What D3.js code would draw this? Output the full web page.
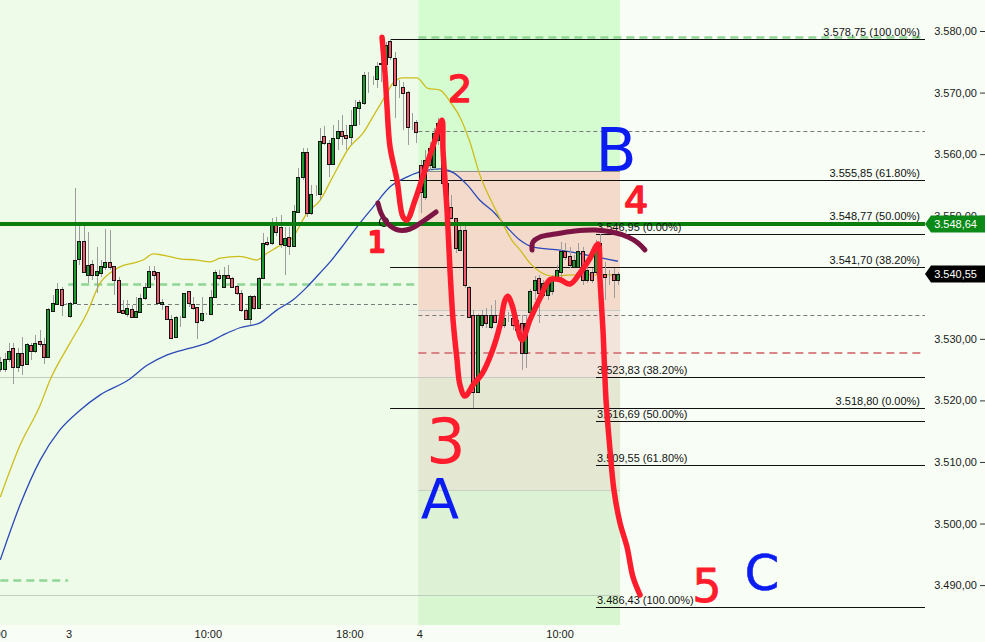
<!DOCTYPE html>
<html>
<head>
<meta charset="utf-8">
<script src="https://cdn.jsdelivr.net/npm/d3@7/dist/d3.min.js"></script>
<style>
html,body{margin:0;padding:0;background:#f8fef6;}
svg{display:block;font-family:"Liberation Sans",Arial,sans-serif;}
</style>
</head>
<body>
<svg id="chart" width="985" height="642"></svg>
<script>
// ================= DATA =================
const open = [3525.1,3525.1,3526.8,3528.5,3525.4,3527.7,3525.9,3529.0,3528.1,3529.6,
3529.2,3527.1,3534.6,3535.7,3538.1,3535.7,3533.7,3535.8,3542.9,3545.9,
3540.4,3542.1,3540.3,3540.7,3541.7,3542.5,3541.8,3539.6,3534.7,3534.1,
3534.8,3533.6,3534.4,3536.6,3538.4,3541.0,3540.8,3535.6,3535.3,3533.2,
3530.3,3533.6,3533.5,3537.8,3535.6,3535.1,3533.1,3534.0,3534.0,3536.8,
3540.4,3538.5,3540.3,3539.8,3538.6,3537.5,3534.7,3533.3,3537.0,3535.0,
3539.8,3545.7,3545.5,3548.5,3548.1,3545.2,3546.5,3545.1,3550.6,3556.3,
3560.4,3550.4,3553.5,3553.5,3562.9,3561.8,3558.4,3562.6,3563.8,3563.1,
3562.8,3564.8,3567.5,3568.3,3572.6,3572.2,3572.2,3574.6,3574.6,3578.3,
3575.6,3570.9,3570.9,3570.1,3564.6,3565.2,3558.2,3553.0,3558.2,3557.9,
3562.3,3565.1,3555.3,3551.4,3549.6,3544.5,3547.7,3538.5,3533.9,3521.4,
3532.2,3533.9,3531.9,3533.9,3533.5,3532.2,3533.4,3533.4,3533.1,3532.6,
3527.7,3534.4,3537.9,3539.8,3537.1,3537.1,3537.7,3540.1,3540.9,3544.2,
3543.4,3541.7,3541.6,3544.2,3539.6,3540.9,3540.9,3545.5,3540.6,3540.4,
3540.6,3539.6];
const high = [3527.0,3527.7,3529.3,3529.3,3528.5,3530.3,3529.3,3529.3,3530.6,3531.4,
3530.1,3535.0,3537.1,3539.1,3538.4,3535.8,3536.0,3554.5,3548.5,3548.5,
3547.3,3542.8,3544.9,3542.8,3547.8,3547.7,3541.8,3540.0,3536.3,3536.3,
3535.5,3536.8,3537.3,3539.1,3541.8,3541.8,3540.9,3536.5,3535.3,3533.9,
3533.7,3533.7,3537.4,3537.8,3536.8,3535.2,3536.8,3534.2,3538.0,3541.2,
3541.2,3541.7,3542.0,3540.0,3538.7,3537.9,3535.0,3537.1,3537.1,3540.1,
3547.2,3546.6,3549.6,3549.8,3550.1,3548.2,3548.2,3551.7,3557.7,3561.0,
3561.0,3555.0,3555.0,3564.2,3564.5,3562.3,3564.7,3565.5,3566.4,3564.7,
3567.2,3568.8,3568.8,3573.3,3573.3,3572.7,3575.0,3575.6,3578.2,3578.75,
3576.6,3572.0,3571.7,3570.3,3566.7,3565.5,3559.0,3560.7,3562.0,3564.2,
3565.9,3565.9,3555.8,3553.4,3549.6,3548.8,3548.5,3538.6,3534.7,3534.0,
3534.7,3535.0,3535.5,3536.3,3534.4,3533.9,3534.4,3533.7,3533.7,3533.9,
3533.9,3538.1,3540.2,3540.4,3539.6,3539.9,3540.4,3542.0,3545.7,3545.6,
3544.9,3543.6,3545.6,3544.9,3542.3,3541.5,3546.0,3546.95,3542.5,3541.2,
3541.5,3540.9];
const low = [3524.6,3524.6,3526.2,3522.7,3524.6,3524.1,3525.8,3526.6,3527.7,3528.7,
3525.9,3527.0,3534.4,3535.5,3533.7,3535.5,3533.4,3535.7,3542.0,3540.9,
3539.1,3539.6,3537.4,3540.0,3541.2,3541.2,3537.1,3534.4,3534.2,3533.5,
3533.4,3533.5,3534.2,3536.3,3538.2,3539.6,3535.7,3534.7,3533.1,3530.1,
3530.3,3531.9,3533.4,3535.2,3534.7,3530.0,3532.7,3533.9,3533.9,3536.6,
3539.6,3538.2,3539.7,3538.3,3537.1,3534.4,3533.1,3532.2,3534.7,3534.8,
3539.8,3545.1,3545.2,3546.7,3544.8,3540.4,3543.6,3545.0,3550.6,3555.8,
3549.8,3550.1,3553.2,3552.6,3561.5,3556.3,3558.2,3560.7,3561.5,3560.7,
3561.5,3564.7,3564.7,3568.0,3570.0,3571.2,3570.7,3571.7,3574.3,3575.3,
3565.9,3569.1,3563.9,3561.5,3563.9,3561.8,3550.4,3552.6,3557.4,3557.4,
3561.5,3555.0,3550.9,3549.6,3543.9,3544.4,3538.2,3533.5,3518.8,3521.4,
3531.8,3531.8,3531.6,3532.6,3532.2,3531.8,3532.7,3531.4,3530.6,3524.9,
3525.3,3534.4,3536.3,3532.6,3536.6,3536.3,3537.1,3539.6,3539.6,3542.8,
3541.5,3541.5,3541.5,3538.7,3539.1,3539.1,3540.4,3540.4,3536.3,3538.7,
3536.6,3538.7];
const close = [3526.3,3526.8,3528.1,3525.4,3527.7,3525.8,3529.2,3528.1,3529.4,3529.1,
3527.1,3534.8,3535.8,3538.1,3535.5,3535.6,3535.8,3542.8,3545.9,3540.9,
3542.0,3540.3,3541.0,3541.9,3542.5,3541.7,3539.6,3534.4,3534.2,3535.0,
3533.6,3534.5,3536.6,3538.4,3541.0,3540.4,3535.8,3536.0,3533.2,3530.2,
3533.6,3533.6,3537.4,3535.8,3535.0,3532.8,3534.2,3534.0,3536.8,3540.9,
3539.9,3540.4,3539.8,3538.5,3537.5,3534.7,3533.2,3537.0,3535.0,3539.8,
3545.5,3545.4,3548.5,3547.4,3545.4,3546.4,3545.1,3550.8,3556.3,3560.4,
3550.4,3553.5,3553.6,3562.1,3561.8,3558.4,3562.6,3563.8,3563.0,3562.7,
3564.8,3567.7,3568.4,3572.9,3572.6,3572.2,3574.3,3574.8,3577.7,3575.7,
3571.2,3571.0,3570.0,3564.4,3564.7,3563.6,3553.8,3559.0,3561.0,3563.4,
3565.1,3555.3,3551.4,3549.6,3544.7,3547.7,3538.8,3533.6,3521.4,3533.9,
3533.9,3532.5,3533.9,3532.7,3533.4,3533.4,3533.5,3532.2,3531.4,3527.7,
3532.6,3537.7,3539.6,3537.4,3539.1,3539.0,3539.6,3541.2,3544.2,3543.3,
3542.0,3542.8,3544.2,3539.6,3541.2,3539.6,3545.2,3540.9,3540.1,3540.3,
3539.6,3540.55];

const maFastIdx = [0,4.5,9.1,11.35,15.9,19.8,22.8,25.05,27.3,30.3,32.6,34.9,37.1,41.0,44.9,47.9,50.2,54.7,58.6,60.9,63.2,66.8,70.0,73.0,75.9,79.8,82.8,86.0,88.3,89.7,91.9,95.1,97.6,100.4,102.7,104.95,107.2,109.5,112.3,114.5,116.8,118.7,120.9,123.2,126.2,130.8,136.9,141];
const maFastVal = [3504.3,3512.7,3519.2,3523.3,3529.3,3534.2,3539.1,3540.7,3541.7,3542.3,3542.8,3543.8,3543.6,3543.0,3542.8,3542.5,3543.1,3543.4,3542.8,3543.9,3544.9,3546.5,3550.4,3552.5,3556.3,3561.2,3563.4,3567.2,3569.9,3571.6,3572.4,3572.4,3570.7,3570.4,3568.5,3566.0,3562.0,3556.6,3552.1,3549.0,3546.0,3544.4,3542.3,3540.9,3540.2,3540.4,3540.4,3540.4];
const maSlowIdx = [0,4.5,9.1,13.6,18.2,22.8,29.2,33.5,38.1,43.3,47.2,50.8,54.7,59.3,63.2,66.8,70.0,73.0,75.3,78.7,82.1,85.1,89.0,92.9,95.8,100.4,103.4,106.6,109.5,112.9,115.2,118.7,121.6,127.8,134.0,141];
const maSlowVal = [3494.1,3503.0,3510.3,3515.2,3518.4,3520.9,3523.3,3525.7,3527.4,3528.5,3529.3,3530.6,3531.8,3532.6,3534.7,3536.3,3538.4,3540.7,3542.5,3545.6,3548.8,3551.4,3554.7,3556.3,3557.1,3557.6,3557.0,3555.0,3552.5,3550.4,3548.5,3546.0,3544.9,3544.4,3543.6,3542.6];

const fib1Start = 89;
const fib1Values = [3578.75, 3555.85, 3548.77, 3541.70, 3518.80];
const fib1Pct = ["100.00%", "61.80%", "50.00%", "38.20%", "0.00%"];
const fib2Start = 136;
const fib2Values = [3546.95, 3523.83, 3516.69, 3509.55, 3486.43];
const fib2Pct = ["0.00%", "38.20%", "50.00%", "61.80%", "100.00%"];

const supportLevel = 3548.64;
const lastPrice = 3540.55;
const levelValues = [3538.9, 3535.7, 3490.8, 3563.8, 3533.9, 3527.7, 3578.95];
const levelFrom = [15.5, 14.3, 0, 95.45, 95.45, 95.45, 95.45];
const levelTo = [95.45, 95.45, 15.5, null, null, null, null];
const levelKind = ["green", "grey", "green", "grey", "grey", "red", "green"];

const sessionStartIdx = 95.45, sessionEndIdx = 141.5;
const bandEdges = [3557.3, 3534.7, 3523.8, 3505.4, 3488.4];

const yTickValues = [3490, 3500, 3510, 3520, 3530, 3540, 3550, 3560, 3570, 3580];
const xTickLabels = ["18:00", "3", "10:00", "18:00", "4", "10:00"];
const xTickIdx = [-1.65, 15.7, 47.5, 79.8, 95.8, 127.8];

const redStrokeIdx = [87.15,87.83,88.29,88.97,90.57,91.94,92.85,94.68,96.96,99.25,100.84,101.07,101.99,102.67,103.36,104.27,104.95,106.10,107.92,109.98,112.26,114.09,115.23,115.91,116.83,117.97,119.11,120.94,123.22,125.50,127.79,130.07,132.35,134.63,136.46,136.92,137.60,138.29,139.20,140.11,141.48,143.08,144.45,146.05];
const redStrokeVal = [3579.0,3573.2,3567.7,3561.2,3555.8,3549.8,3549.3,3552.5,3557.4,3562.3,3565.5,3560.7,3550.9,3541.2,3533.1,3526.6,3522.5,3520.7,3522.5,3524.3,3527.9,3532.2,3536.3,3536.9,3535.5,3532.2,3529.8,3533.1,3536.6,3539.6,3539.6,3538.9,3540.7,3543.1,3545.4,3539.6,3531.4,3520.1,3512.0,3505.4,3500.1,3496.2,3491.3,3488.4];
const arc1Idx = [86.23,86.92,88.52,90.80,93.54,96.28,99.48];
const arc1Val = [3552.06,3550.44,3548.65,3547.68,3547.84,3548.98,3550.60];
const arc2Idx = [121.39,121.62,123.22,126.64,131.20,135.78,139.66,143.31,145.59,147.19];
const arc2Val = [3544.43,3545.73,3546.54,3547.03,3547.52,3547.68,3547.35,3546.54,3545.57,3544.43];
const markerIdx = 87.6, markerVal = 3548.98;
const noteText = ["1", "2", "3", "4", "5", "A", "B", "C"];
const noteIdx = [86.0, 104.95, 101.76, 145.14, 161.35, 100.39, 140.57, 173.9];
const noteVal = [3544.1, 3568.47, 3509.83, 3550.44, 3487.25, 3500.9, 3557.26, 3489.2];

// ================= DRAW =================
const W = 985, H = 642, plotRight = 925, plotBottom = 625;
const svg = d3.select("#chart");
const x = d3.scaleLinear().domain([0, 141]).range([0.3, 0.3 + 141 * 4.38]);
const y = d3.scaleLinear().domain([3580, 3490]).range([31.0, 585.1]);
const fmt = d3.formatLocale({decimal: ",", thousands: ".", grouping: [3], currency: ["", ""]}).format(",.2f");

svg.append("rect").attr("width", W).attr("height", H).attr("fill", "#f8fef6");
const xs0 = x(sessionStartIdx), xs1 = x(sessionEndIdx);
svg.append("rect").attr("x", 0).attr("y", 0).attr("width", xs0).attr("height", plotBottom).attr("fill", "#edfbe8");
svg.append("rect").attr("x", xs0).attr("y", 0).attr("width", xs1 - xs0).attr("height", plotBottom).attr("fill", "#d5fcd0");
const bandFills = ["#f3dacb", "#f2e4da", "#e4e7d1", "#ddf2d5"];
for (let k = 0; k < bandEdges.length - 1; k++) {
  svg.append("rect").attr("x", xs0).attr("y", y(bandEdges[k]))
    .attr("width", xs1 - xs0).attr("height", y(bandEdges[k + 1]) - y(bandEdges[k]))
    .attr("fill", bandFills[k]);
}
svg.append("rect").attr("x", xs0).attr("y", y(bandEdges[4]))
  .attr("width", xs1 - xs0).attr("height", plotBottom - y(bandEdges[4])).attr("fill", "#d8f7d0");

const hline = (v, x0, x1, color, w, dash) => {
  const yy = Math.round(y(v)) + (w % 2 ? 0.5 : 0);
  const l = svg.append("line").attr("x1", x0).attr("x2", x1).attr("y1", yy).attr("y2", yy)
    .attr("stroke", color).attr("stroke-width", w);
  if (dash) l.attr("stroke-dasharray", dash);
  return l;
};
hline(bandEdges[0], xs0, xs1, "#8c8c8c", 1);
hline(bandEdges[1], xs0, xs1, "#c9c9c9", 1);
hline(bandEdges[2], 0, xs1, "#c2ccc0", 1);
hline(bandEdges[3], xs0, xs1, "#c6d0c3", 1);
hline(bandEdges[4], 0, xs1, "#c2ccc0", 1);

levelValues.forEach((v, k) => {
  const x0 = x(levelFrom[k]);
  const x1 = levelTo[k] === null ? plotRight : x(levelTo[k]);
  if (levelKind[k] === "green") hline(v, x0, x1, "#8fd694", 2.5, "8,5");
  else if (levelKind[k] === "red") hline(v, x0, x1, "#d98587", 2, "8,5");
  else hline(v, x0, x1, "#7a7a7a", 1, "4,3");
});

fib1Values.forEach(v => hline(v, x(fib1Start), plotRight, "#111", 1));
fib2Values.forEach(v => hline(v, x(fib2Start), plotRight, "#111", 1));

const line = d3.line().x(d => x(d[0])).y(d => y(d[1])).curve(d3.curveMonotoneX);
svg.append("path").attr("d", line(maSlowIdx.map((d, k) => [d, maSlowVal[k]])))
  .attr("fill", "none").attr("stroke", "#2a48b8").attr("stroke-width", 1.3);
svg.append("path").attr("d", line(maFastIdx.map((d, k) => [d, maFastVal[k]])))
  .attr("fill", "none").attr("stroke", "#cdbd1a").attr("stroke-width", 1.3);

const candles = svg.append("g");
open.forEach((o, i) => {
  const c = close[i];
  const cx = Math.round(x(i));
  candles.append("line").attr("x1", cx + 0.5).attr("x2", cx + 0.5)
    .attr("y1", y(high[i])).attr("y2", y(low[i]))
    .attr("stroke", "#9c9c9c").attr("stroke-width", 1).attr("shape-rendering", "crispEdges");
  const y0 = Math.round(y(Math.max(o, c)));
  const y1 = Math.round(y(Math.min(o, c)));
  const doji = Math.abs(o - c) < 0.15;
  const fill = doji ? "#111" : (c > o ? "#1d9a2e" : "#f0596c");
  candles.append("rect").attr("x", cx - 1.5).attr("y", y0 + 0.5)
    .attr("width", 3).attr("height", Math.max(y1 - y0, 1) - (doji ? 1 : 0))
    .attr("fill", fill).attr("stroke", "#151515").attr("stroke-width", 1);
});

hline(supportLevel, 0, plotRight, "#0b7d0b", 4);

const fibText = svg.append("g").attr("font-size", 11).attr("fill", "#111");
fib1Values.forEach((v, k) => {
  fibText.append("text").attr("x", 920).attr("y", y(v) - 3).attr("text-anchor", "end")
    .text(fmt(v) + " (" + fib1Pct[k] + ")");
});
fib2Values.forEach((v, k) => {
  fibText.append("text").attr("x", x(fib2Start) + 1).attr("y", y(v) - 3)
    .text(fmt(v) + " (" + fib2Pct[k] + ")");
});

const ax = svg.append("g").attr("transform", "translate(985,0)")
  .call(d3.axisLeft(y).tickValues(yTickValues).tickFormat(fmt).tickSize(5).tickPadding(3));
ax.select(".domain").remove();
ax.attr("font-size", 11).attr("font-family", "Liberation Sans, Arial, sans-serif");
ax.selectAll("text").attr("fill", "#1a1a1a");
ax.selectAll("line").attr("stroke", "#333");

const tag = (v, color) => {
  const yc = y(v);
  svg.append("path").attr("d", `M925,${yc} L931,${yc - 8.5} L985,${yc - 8.5} L985,${yc + 8.5} L931,${yc + 8.5} Z`)
    .attr("fill", color);
  svg.append("text").attr("x", 977).attr("y", yc + 4).attr("text-anchor", "end")
    .attr("font-size", 11).attr("fill", "#fff").text(fmt(v));
};
tag(supportLevel, "#0b8a18");
tag(lastPrice, "#000");

xTickLabels.forEach((t, k) => {
  svg.append("text").attr("x", x(xTickIdx[k])).attr("y", 638).attr("text-anchor", "middle")
    .attr("font-size", 11).attr("fill", "#1a1a1a").text(t);
});

svg.append("circle").attr("cx", x(markerIdx)).attr("cy", y(markerVal)).attr("r", 4.5)
  .attr("fill", "none").attr("stroke", "#111").attr("stroke-width", 1.2);
const pen = d3.line().x(d => x(d[0])).y(d => y(d[1])).curve(d3.curveCatmullRom);
const stroke = (idx, val, color, w) => svg.append("path")
  .attr("d", pen(idx.map((d, k) => [d, val[k]])))
  .attr("fill", "none").attr("stroke", color).attr("stroke-width", w)
  .attr("stroke-linecap", "round").attr("stroke-linejoin", "round");
stroke(arc1Idx, arc1Val, "#7c1444", 5);
stroke(arc2Idx, arc2Val, "#7c1444", 5);
stroke(redStrokeIdx, redStrokeVal, "#ff1c2c", 5.5);

const noteSize = [28, 38, 62, 38, 46, 56, 60, 50];
const noteColor = ["#ff1c2c", "#ff1c2c", "#ff1c2c", "#ff1c2c", "#ff1c2c", "#0b1cf2", "#0b1cf2", "#0b1cf2"];
noteText.forEach((t, k) => {
  const s = noteSize[k];
  svg.append("text").attr("x", x(noteIdx[k])).attr("y", y(noteVal[k]))
    .attr("text-anchor", "middle").attr("font-family", "DejaVu Sans, sans-serif")
    .attr("font-size", s).attr("fill", noteColor[k])
    .attr("stroke", noteColor[k]).attr("stroke-width", Math.max(0, 5 - 0.09 * s))
    .attr("stroke-linejoin", "round").text(t);
});
</script>
</body>
</html>
